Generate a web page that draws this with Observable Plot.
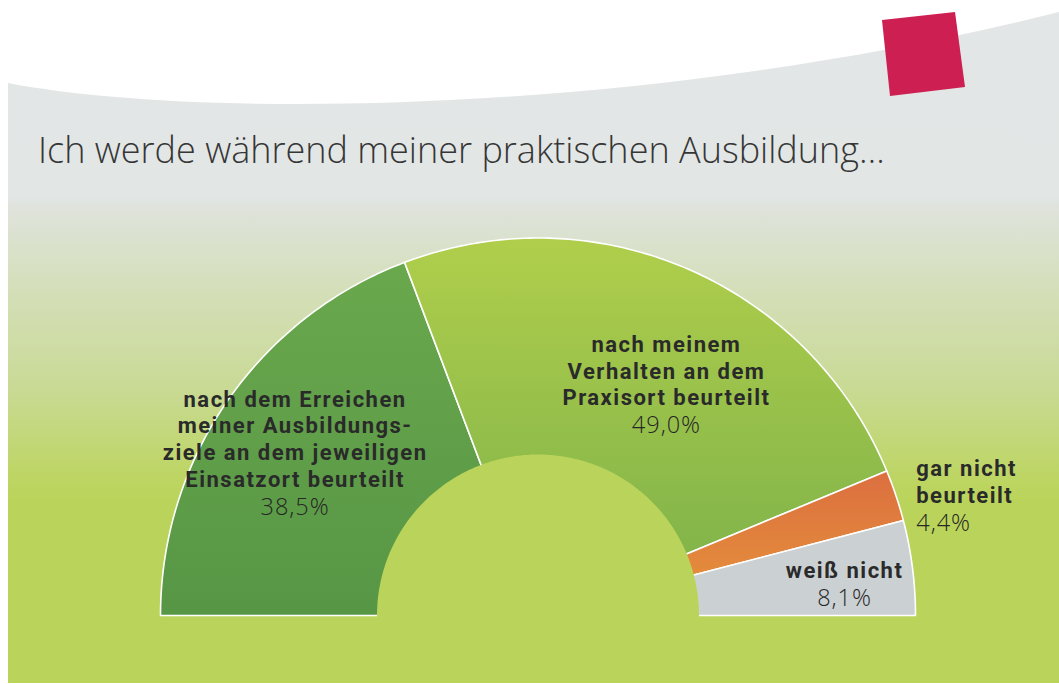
<!DOCTYPE html>
<html>
<head>
<meta charset="utf-8">
<script src="https://cdn.jsdelivr.net/npm/d3@7"></script>
<script src="https://cdn.jsdelivr.net/npm/@observablehq/plot@0.6"></script>
<style>
  html, body { margin: 0; padding: 0; background: #ffffff; }
  #stage { position: relative; width: 1059px; height: 684px; overflow: hidden; font-family: "Open Sans", sans-serif; }
  #bg {
    position: absolute; left: 8px; top: 0; width: 1051px; height: 683px;
    background: linear-gradient(to bottom, #e3e6e6 0px, #e2e6e5 198px, #dfe3dc 206px, #d5dfbb 285px, #c9da96 385px, #bdd562 480px, #bad45b 500px, #bad45b 683px);
    clip-path: path('M0,83 C192,120 642,115 1051,12 L1051,683 L0,683 Z');
  }
  #mark { position: absolute; left: 0; top: 0; width: 1059px; height: 684px; background: #cd1f52;
    clip-path: polygon(882px 20px, 955px 12px, 965px 87px, 890px 96px); }
  #title { position: absolute; left: 38px; top: 132px; margin: 0; font-size: 36px; line-height: 36px;
    font-weight: 300; color: #363636; white-space: nowrap; }
  #chart { position: absolute; left: 0; top: 0; }
</style>
</head>
<body>
<div id="stage">
  <div id="bg"></div>
  <div id="mark"></div>
  <div id="title">Ich werde während meiner praktischen Ausbildung…</div>
  <div id="chart"></div>
</div>
<script>
// ---- data ----
const categories = [
  "nach dem Erreichen meiner Ausbildungsziele an dem jeweiligen Einsatzort beurteilt",
  "nach meinem Verhalten an dem Praxisort beurteilt",
  "gar nicht beurteilt",
  "weiß nicht"
];
const labelLines = [
  "nach dem Erreichen\nmeiner Ausbildungs-\nziele an dem jeweiligen\nEinsatzort beurteilt",
  "nach meinem\nVerhalten an dem\nPraxisort beurteilt",
  "gar nicht\nbeurteilt",
  "weiß nicht"
];
const values = [38.5, 49.0, 4.4, 8.1];
const percentLabels = ["38,5%", "49,0%", "4,4%", "8,1%"];

// ---- styles / layout (kept apart from data) ----
const gradientStops = [
  ["#6aa84d", "#579645"],
  ["#b0ce4b", "#7ab04a"],
  ["#dc6f40", "#e6963a"],
  ["#cbd0d3", "#cbd0d3"]
];
const labelLayout = [
  {k: 0.75, dx: -10, dy: 32, anchor: "middle"},
  {k: 0.65, dx: 31, dy: 15, anchor: "middle"},
  {k: 1.04, dx: 6, dy: 12, anchor: "start"},
  {k: 0.80, dx: 7, dy: 1, anchor: "middle"}
];
const holeRatio = 161 / 377.5;
const W = 1059, H = 684, CX = 537.5, CY = 615, R = 377.5;
const LH = 1.21, FS = 22;

// ---- geometry derived from values ----
const total = d3.sum(values);
const wedgePts = [];
const labels = [];
let cum = 0;
categories.forEach((c, i) => {
  const a0 = Math.PI * (1 - cum / total);
  const a1 = Math.PI * (1 - (cum + values[i]) / total);
  const n = Math.max(6, Math.ceil(240 * values[i] / total));
  wedgePts.push({key: c, x: 0, y: 0});
  for (let j = 0; j <= n; ++j) {
    const a = a0 + (a1 - a0) * j / n;
    wedgePts.push({key: c, x: Math.cos(a), y: Math.sin(a)});
  }
  wedgePts.push({key: c, x: 0, y: 0});
  const mid = (a0 + a1) / 2, L = labelLayout[i];
  labels.push({key: c, text: labelLines[i] + "\n" + percentLabels[i],
    x: L.k * Math.cos(mid), y: L.k * Math.sin(mid), dx: L.dx, dy: L.dy, anchor: L.anchor});
  cum += values[i];
});
const holePts = [{x: holeRatio, y: -0.006}];
for (let j = 0; j <= 180; ++j) {
  const a = Math.PI * j / 180;
  holePts.push({x: holeRatio * Math.cos(a), y: holeRatio * Math.sin(a)});
}
holePts.push({x: -holeRatio, y: -0.006});

const textMarks = labels.map(l =>
  Plot.text([l], {x: "x", y: "y", text: "text", dx: l.dx, dy: l.dy + LH * FS, textAnchor: l.anchor,
    lineAnchor: "bottom", lineHeight: LH, fontSize: FS, fontWeight: 700, fill: "#2a2a2a",
    fontFamily: "Roboto"})
);

const svg = Plot.plot({
  width: W, height: H, margin: 0,
  style: {background: "transparent", overflow: "visible"},
  x: {domain: [-CX / R, (W - CX) / R], axis: null},
  y: {domain: [-(H - CY) / R, CY / R], axis: null},
  color: {type: "ordinal", domain: categories, range: categories.map((_, i) => `url(#sliceGrad${i})`)},
  marks: [
    Plot.line(wedgePts, {x: "x", y: "y", z: "key", fill: "key", stroke: "#ffffff", strokeWidth: 1.6, strokeLinejoin: "miter", curve: "linear"}),
    Plot.line(holePts, {x: "x", y: "y", fill: "#bad45b", stroke: "none"}),
    ...textMarks
  ]
});

const ns = "http://www.w3.org/2000/svg";
const defs = document.createElementNS(ns, "defs");
gradientStops.forEach(([top, bottom], i) => {
  const g = document.createElementNS(ns, "linearGradient");
  g.setAttribute("id", `sliceGrad${i}`);
  g.setAttribute("x1", "0"); g.setAttribute("y1", "0");
  g.setAttribute("x2", "0"); g.setAttribute("y2", "1");
  [[0, top], [1, bottom]].forEach(([o, c]) => {
    const s = document.createElementNS(ns, "stop");
    s.setAttribute("offset", o); s.setAttribute("stop-color", c);
    g.appendChild(s);
  });
  defs.appendChild(g);
});
svg.insertBefore(defs, svg.firstChild);
// label styling: wider tracking for the bold lines, lighter percentage line
svg.querySelectorAll("[aria-label=text] text").forEach(t => {
  t.style.letterSpacing = "1.5px";
  const spans = t.querySelectorAll("tspan");
  const last = spans[spans.length - 1];
  if (last) {
    last.setAttribute("font-weight", "300");
    last.setAttribute("font-size", "23.5");
    last.setAttribute("font-family", "Open Sans");
    last.setAttribute("fill", "#262626");
    last.setAttribute("dy", "28");
    last.style.fontWeight = "300";
    last.style.letterSpacing = "1px";
  }
});
document.getElementById("chart").appendChild(svg);
</script>
</body>
</html>
